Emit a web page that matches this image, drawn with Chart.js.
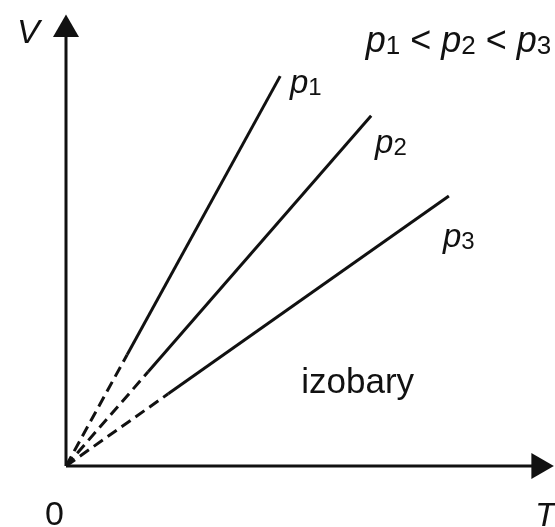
<!DOCTYPE html>
<html>
<head>
<meta charset="utf-8">
<script src="https://cdn.jsdelivr.net/npm/chart.js@4/dist/chart.umd.min.js"></script>
<style>
  html, body { margin: 0; padding: 0; background: #fff; }
</style>
</head>
<body>
<canvas id="izobary" width="555" height="527"></canvas>
<script>
// isobars V ~ T, dashed near the origin, solid further out
const isobarNames = ['p1', 'p2', 'p3'];
const isobarEndT = [4.38, 6.24, 7.83];
const isobarEndV = [7.78, 6.99, 5.39];
const dashEndT = [1.25, 1.68, 2.09];
const dashEndV = [2.22, 1.88, 1.44];

// axes with arrow heads
const axisT = [0, 9.55];
const axisV = [0, 8.6];
const arrowT = [9.67, 0];
const arrowV = [0, 8.71];
const arrowRotation = [90, 0];

// texts, anchored in T/V units (left, baseline)
const textLabels = ['V', '0', 'T', 'izobary', 'p1', 'p2', 'p3', 'p1 < p2 < p3'];
const textT = [-1.0, -0.43, 9.59, 4.81, 4.58, 6.32, 7.71, 6.13];
const textV = [8.44, -1.18, -1.2, 1.46, 7.45, 6.25, 4.37, 8.26];
const textSize = [34, 34, 34, 35, 33, 33, 33, 36];

const ink = '#111';
const family = '"Liberation Sans", Arial, sans-serif';

const datasets = [];

isobarNames.forEach((name, i) => {
  datasets.push({
    label: name,
    data: [
      { x: 0, y: 0 },
      { x: dashEndT[i], y: dashEndV[i] },
      { x: isobarEndT[i], y: isobarEndV[i] },
    ],
    showLine: true,
    borderColor: ink,
    borderWidth: 3,
    pointRadius: 0,
    segment: {
      borderDash: (ctx) => (ctx.p0DataIndex === 0 ? [11, 6] : undefined),
    },
  });
});

datasets.push({
  label: 'T axis',
  data: [{ x: axisT[0], y: 0 }, { x: axisT[1], y: 0 }],
  showLine: true,
  borderColor: ink,
  borderWidth: 3,
  pointRadius: 0,
});
datasets.push({
  label: 'V axis',
  data: [{ x: 0, y: axisV[0] }, { x: 0, y: axisV[1] }],
  showLine: true,
  borderColor: ink,
  borderWidth: 3,
  pointRadius: 0,
});
datasets.push({
  label: 'arrows',
  data: arrowT.map((t, i) => ({ x: t, y: arrowV[i] })),
  showLine: false,
  pointStyle: 'triangle',
  pointRadius: 15,
  rotation: arrowRotation,
  backgroundColor: ink,
  borderColor: ink,
  borderWidth: 0,
});

// p with small digit after it, other characters plain
function drawMixed(ctx, text, x, y, size) {
  let cx = x;
  for (const ch of text) {
    if (ch === 'p') {
      ctx.font = 'italic ' + size + 'px ' + family;
      ctx.fillText(ch, cx, y);
      cx += ctx.measureText(ch).width;
    } else if (/[0-9]/.test(ch) && text.length > 1) {
      ctx.font = Math.round(size * 0.72) + 'px ' + family;
      ctx.fillText(ch, cx, y + 2);
      cx += ctx.measureText(ch).width;
    } else {
      ctx.font = (ch === 'V' || ch === 'T' ? 'italic ' : '') + size + 'px ' + family;
      ctx.fillText(ch, cx, y);
      cx += ctx.measureText(ch).width;
    }
  }
}

const textPlugin = {
  id: 'texts',
  afterDatasetsDraw(chart) {
    const ctx = chart.ctx;
    const xs = chart.scales.x;
    const ys = chart.scales.y;
    ctx.save();
    ctx.fillStyle = ink;
    ctx.textBaseline = 'alphabetic';
    textLabels.forEach((t, i) => {
      const px = xs.getPixelForValue(textT[i]);
      const py = ys.getPixelForValue(textV[i]);
      if (t === 'izobary') {
        ctx.font = textSize[i] + 'px ' + family;
        ctx.fillText(t, px, py);
      } else {
        drawMixed(ctx, t, px, py, textSize[i]);
      }
    });
    ctx.restore();
  },
};

new Chart(document.getElementById('izobary'), {
  type: 'scatter',
  data: { datasets },
  options: {
    responsive: false,
    animation: false,
    devicePixelRatio: 1,
    layout: { autoPadding: false, padding: { left: 66, right: 0, top: 15, bottom: 61 } },
    plugins: { legend: { display: false }, tooltip: { enabled: false } },
    elements: { line: { tension: 0 } },
    clip: false,
    scales: {
      x: { type: 'linear', min: 0, max: 10, display: false },
      y: { type: 'linear', min: 0, max: 9, display: false },
    },
  },
  plugins: [textPlugin],
});
</script>
</body>
</html>
